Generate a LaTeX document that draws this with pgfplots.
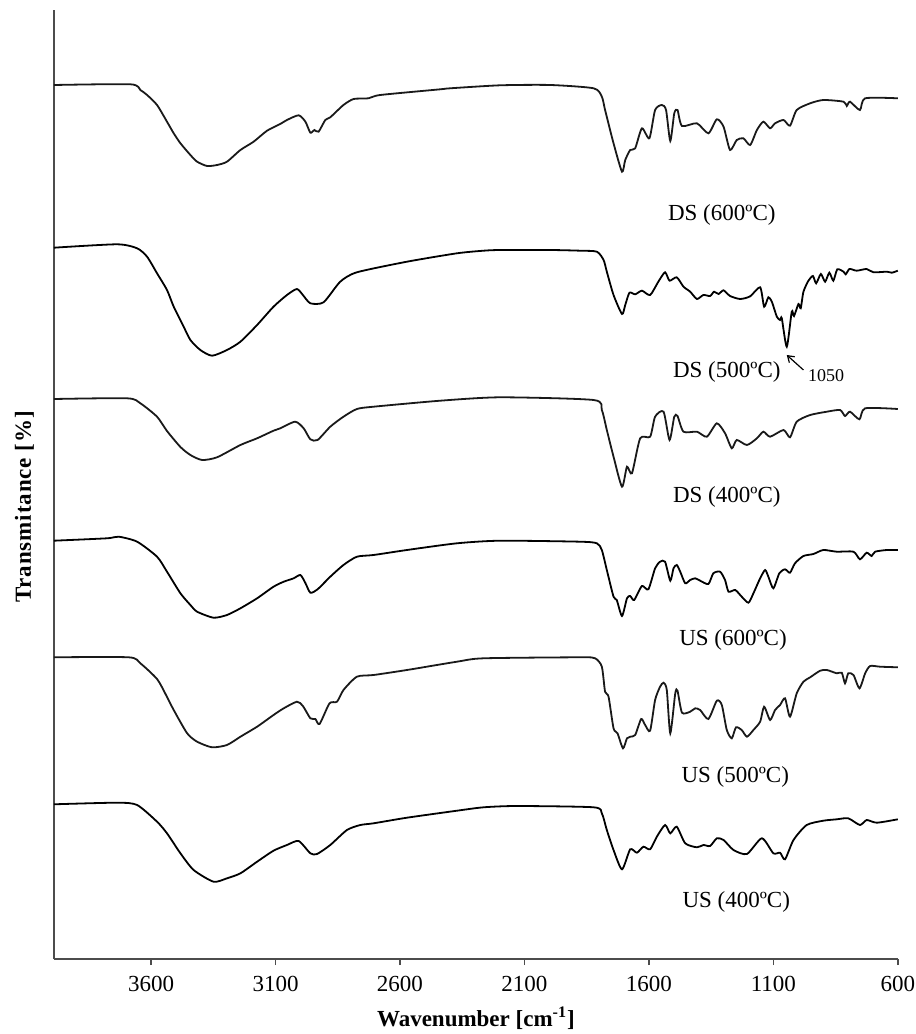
\documentclass[border=0pt]{standalone}
\usepackage{fontspec}
\setmainfont{Liberation Serif}
\usepackage{pgfplots}
\pgfplotsset{compat=1.18}
\usetikzlibrary{arrows.meta}
\begin{document}
\begin{tikzpicture}
\path[use as bounding box] (-27pt,-37.5pt) rectangle (431pt,479.5pt);
\begin{axis}[
  at={(0,0)}, anchor=south west,
  scale only axis, width=421.9pt, height=474.5pt,
  x dir=reverse, xmin=600, xmax=3990, ymin=0, ymax=949,
  axis lines*=left, axis line style={line width=1pt, color=black!70},
  xtick={600,1100,1600,2100,2600,3100,3600},
  xticklabels={600,1100,1600,2100,2600,3100,3600},
  ytick=\empty, tick align=outside, xtick pos=bottom,
  major tick length=3pt, tick style={line width=0.8pt, color=black!70},
  /pgf/number format/assume math mode=true,
  tick label style={font=\fontsize{11.5}{13}\selectfont},
  xticklabel style={yshift=-2pt},
  xlabel={\textbf{Wavenumber [cm\textsuperscript{-1}]}},
  ylabel={\addfontfeatures{LetterSpace=4}\textbf{Transmitance [\%]}},
  label style={font=\fontsize{11.5}{13}\selectfont},
  ylabel style={yshift=3.5pt, xshift=-11pt},
  xlabel style={yshift=-1pt},
  no markers,
  cycle list={{black!90, solid}},
  every axis plot/.append style={line width=0.9pt, smooth, tension=0.4},
  clip=false
]
% DS (600 C)
\addplot coordinates {(3990,874)(3683,874.7)(3643,869)(3616,864)(3576,854)(3536,837.3)(3509,825.7)(3482,815.7)(3442,804)(3415,797.3)(3375,793)(3335,794)(3295,797.3)(3241,809)(3188,817.3)(3134,828.3)(3081,835)(3054,839)(3007,843.7)(2980,837.3)(2960,826.3)(2944,829)(2927,827.3)(2900,839)(2880,841.7)(2827,854)(2786,860)(2726,860.7)(2679,864)(2438,869.7)(2398,870.7)(2197,873.7)(1996,874)(1822,870.7)(1789,862.3)(1776,849)(1742,815.7)(1708,787.3)(1695,799)(1675,809)(1655,810.7)(1628,830.7)(1598,820.7)(1575,849)(1548,854)(1531,849)(1514,818)(1498,845.7)(1485,849)(1467,833)(1407,835.7)(1361,825.7)(1327,839.7)(1300,832.3)(1274,809)(1247,819)(1220,820.7)(1193,814)(1166,829)(1140,837.3)(1113,830.7)(1093,835.7)(1059,839)(1033,833.3)(1006,849)(952,855.7)(899,859)(818,857.3)(805,853)(792,857.3)(752,849)(731,860.7)(600,860.7)};
% DS (500 C)
\addplot coordinates {(3990,711.3)(3737,714.7)(3656,710.7)(3616,702.3)(3576,685.7)(3536,669)(3509,652.3)(3469,632.3)(3442,619)(3402,609)(3355,603.3)(3295,609)(3241,617.3)(3174,634)(3108,652.3)(3054,664)(3014,670)(2990,664)(2960,655.7)(2907,656.7)(2840,677.3)(2773,686.7)(2572,697.3)(2371,705.7)(2264,708.3)(2197,709)(1996,709)(1876,708.3)(1809,707.3)(1782,699)(1769,687.3)(1742,664)(1708,645)(1695,654)(1678,666.3)(1655,664.7)(1628,668.3)(1595,664)(1562,677.3)(1535,686.7)(1517,678.3)(1488,681.7)(1461,672.3)(1434,667.3)(1407,660)(1381,664)(1354,663)(1338,667.3)(1320,665)(1300,668.7)(1274,663)(1233,660)(1193,662.7)(1153,671.7)(1137,652.3)(1120,661.7)(1106,657.3)(1086,642.3)(1073,639)(1066,640.7)(1046,612.3)(1026,647.3)(1017,643)(999,655)(990,650.7)(979,667.3)(959,678.3)(941,683)(928,675.7)(909,685)(892,677.3)(875,686.3)(859,678.3)(843,689.7)(818,687.3)(809,684.7)(794,690)(765,688.3)(725,690)(698,686.7)(644,687.3)(624,686.3)(600,688.3)};
% DS (400 C)
\addplot coordinates {(3990,560)(3696,560.7)(3643,555.7)(3576,542.3)(3536,528)(3482,512)(3442,504)(3395,499)(3335,501.7)(3241,514)(3174,520.7)(3108,528.3)(3081,530.7)(3021,537.3)(2987,530.7)(2960,519.7)(2931,519)(2880,532.3)(2827,542.3)(2773,550)(2706,552.3)(2438,558.3)(2197,561.7)(1822,559)(1789,549)(1769,529)(1742,502.3)(1708,472.3)(1688,492.3)(1668,485.7)(1635,520.7)(1595,522.3)(1575,542.3)(1541,547.3)(1517,519)(1498,542.3)(1485,543)(1461,527.3)(1407,527.3)(1367,522.3)(1327,535.7)(1294,525.7)(1267,510.7)(1247,519)(1206,514)(1166,520.7)(1140,527.3)(1113,522.3)(1059,529)(1033,521.7)(1006,537.3)(952,544)(885,547.3)(832,549)(812,543)(792,547.3)(754,539.7)(731,550.7)(600,550)};
% US (600 C)
\addplot coordinates {(3990,418.3)(3777,420.7)(3730,422.3)(3656,417.3)(3576,402.3)(3536,387.3)(3482,365.7)(3442,354)(3415,347.3)(3349,341.3)(3295,344)(3241,350.7)(3174,360.7)(3108,372.3)(3067,377.3)(3027,380.7)(3000,384)(2980,376)(2960,366.3)(2931,369.7)(2880,382.3)(2827,394)(2773,402.3)(2706,404)(2572,409)(2371,415.7)(2197,418.3)(1876,417.3)(1809,415.7)(1789,409)(1769,389)(1742,362.3)(1729,359)(1708,343)(1688,360.7)(1675,363)(1659,359)(1628,373)(1602,369.7)(1575,390.7)(1555,397.3)(1535,397.3)(1514,378.3)(1501,390.7)(1488,394)(1474,387.3)(1454,375.7)(1434,379)(1414,380.7)(1394,378.3)(1361,375)(1341,385.7)(1314,387.3)(1294,379)(1280,367.3)(1253,369)(1227,362.3)(1200,356.3)(1180,365.7)(1153,380.7)(1133,389)(1120,382.3)(1100,370.7)(1076,385.7)(1053,389.7)(1033,386.3)(1013,395.7)(979,403)(939,405)(899,409)(845,407.3)(778,407.3)(752,399.7)(725,406.3)(705,403)(691,407.3)(644,409)(600,409)};
% US (500 C)
\addplot coordinates {(3990,301.7)(3690,301.7)(3643,295.7)(3576,280)(3542,265)(3509,249)(3455,225.7)(3415,217.3)(3355,211.7)(3295,214)(3241,222.3)(3174,232.3)(3108,244)(3067,250.7)(3014,257.3)(2990,253)(2960,240.7)(2940,240)(2923,235)(2883,255.7)(2853,257.3)(2827,269)(2773,282.3)(2706,284)(2572,289)(2371,297.3)(2264,300.7)(1876,301.7)(1816,300.7)(1789,292.3)(1776,267.3)(1762,262.3)(1742,230.7)(1726,225.7)(1704,210.7)(1688,220.7)(1675,222.3)(1655,224)(1631,240)(1615,234)(1595,228.3)(1575,259)(1555,272.3)(1541,276.3)(1528,269)(1514,225.7)(1494,265.7)(1485,268.3)(1467,246.3)(1434,247.3)(1414,250.7)(1394,249)(1361,240)(1327,258.3)(1307,254)(1287,229)(1267,220.7)(1250,231.7)(1227,229)(1206,222.3)(1180,229)(1153,237.3)(1137,252.3)(1113,239)(1093,249)(1073,254)(1053,260.7)(1033,242.3)(1006,265.7)(979,277.3)(952,281.7)(912,288.3)(885,289)(845,285.7)(825,286.3)(812,275.7)(799,285.7)(778,284)(754,270.7)(731,285.7)(711,293)(671,292.3)(600,291.7)};
% US (400 C)
\addplot coordinates {(3990,154.7)(3737,156.3)(3656,154)(3576,137.3)(3536,125.7)(3482,105.7)(3429,89)(3349,77.3)(3295,80.7)(3241,85.7)(3174,97.3)(3108,108.3)(3054,114)(3007,118)(2960,105.7)(2933,105)(2880,114)(2813,129)(2759,134)(2706,135.7)(2572,141.3)(2371,148.3)(2264,151.7)(2130,153)(1822,151.7)(1789,145.7)(1769,129)(1742,109)(1708,89.7)(1675,109.7)(1648,106.3)(1622,112.3)(1595,109.7)(1568,122.3)(1535,134)(1514,125.7)(1488,132.3)(1454,115.7)(1407,111.7)(1381,114)(1354,113)(1327,120.7)(1300,119)(1260,109)(1206,105)(1146,120.7)(1100,105.7)(1073,106.3)(1053,99.7)(1019,119)(966,134)(899,138.3)(845,139.7)(799,140.7)(752,134)(725,139)(684,136.3)(600,139.7)};
\begin{scope}[font=\fontsize{11.5}{13}\selectfont]
\node at (axis cs:1307,744) {DS (600ºC)};
\node at (axis cs:1287,587) {DS (500ºC)};
\node at (axis cs:1287,462) {DS (400ºC)};
\node at (axis cs:1262,319) {US (600ºC)};
\node at (axis cs:1253,181.7) {US (500ºC)};
\node at (axis cs:1249,57) {US (400ºC)};
\end{scope}
\node[font=\fontsize{9}{10}\selectfont] at (axis cs:888,583) {1050};
\draw[-{Straight Barb[length=3pt,width=4pt]}, line width=0.6pt] (axis cs:979,589) -- (axis cs:1046,604);
\end{axis}
\end{tikzpicture}
\end{document}
